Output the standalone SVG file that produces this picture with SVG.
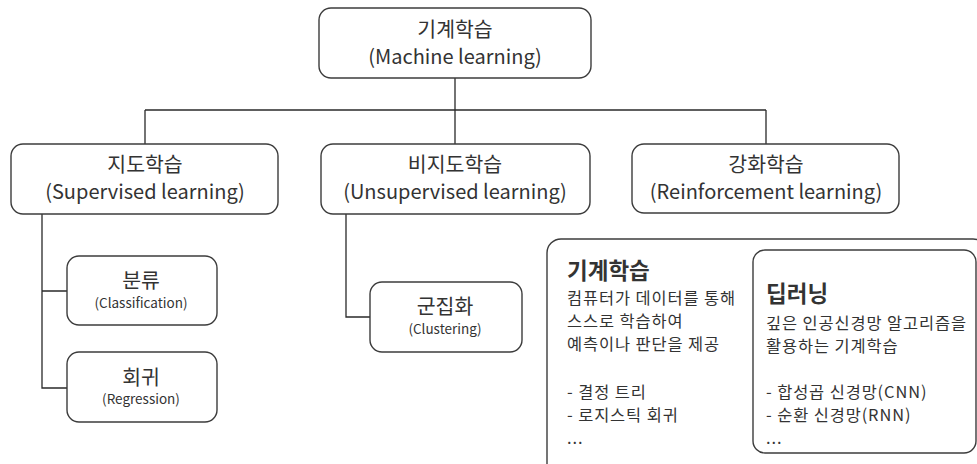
<svg xmlns="http://www.w3.org/2000/svg" width="977" height="464" viewBox="0 0 977 464">
<style>
.box{fill:#fff;stroke:#3c3c3c;stroke-width:1.4}
.ln{fill:none;stroke:#2a2a2a;stroke-width:1.3}
text{font-family:"Noto Sans CJK KR","Noto Sans",sans-serif;fill:#333}
.t{font-size:20.5px;text-anchor:middle}
.e{font-size:20px;text-anchor:middle}
.s{font-size:13.5px;text-anchor:middle}
.h{font-size:22.5px;font-weight:bold}
.b{font-size:16.4px;letter-spacing:0.9px}
</style>
<rect width="977" height="464" fill="#fff"/>
<g id="connectors">
<path class="ln" d="M455 78V144M145 110H766M145 110V144M766 110V144"/>
<path class="ln" d="M42 214V388H67M42 291H67"/>
<path class="ln" d="M346 214V317H370"/>
</g>
<g id="ml">
<rect class="box" x="319" y="8" width="272" height="70" rx="12"/>
<text class="t" x="455" y="37">기계학습</text>
<text class="e" x="455" y="64">(Machine learning)</text>
</g>
<g id="supervised">
<rect class="box" x="11" y="144" width="267" height="70" rx="12"/>
<text class="t" x="145" y="172">지도학습</text>
<text class="e" x="145" y="199">(Supervised learning)</text>
</g>
<g id="unsupervised">
<rect class="box" x="321" y="144" width="269" height="70" rx="12"/>
<text class="t" x="455" y="172">비지도학습</text>
<text class="e" x="455" y="199">(Unsupervised learning)</text>
</g>
<g id="reinforcement">
<rect class="box" x="632" y="144" width="267" height="69" rx="12"/>
<text class="t" x="766" y="172">강화학습</text>
<text class="e" x="766" y="199">(Reinforcement learning)</text>
</g>
<g id="classification">
<rect class="box" x="67" y="256" width="150" height="69" rx="12"/>
<text class="t" x="141" y="288">분류</text>
<text class="s" x="141" y="308">(Classification)</text>
</g>
<g id="regression">
<rect class="box" x="67" y="352" width="150" height="70" rx="12"/>
<text class="t" x="141" y="385">회귀</text>
<text class="s" x="141" y="404">(Regression)</text>
</g>
<g id="clustering">
<rect class="box" x="370" y="282" width="152" height="70" rx="12"/>
<text class="t" x="445" y="314">군집화</text>
<text class="s" x="445" y="334">(Clustering)</text>
</g>
<g id="compare">
<rect class="box" x="547" y="239" width="440" height="240" rx="14"/>
<text class="h" x="567" y="279">기계학습</text>
<text class="b" x="567" y="304">컴퓨터가 데이터를 통해</text>
<text class="b" x="567" y="327">스스로 학습하여</text>
<text class="b" x="567" y="350">예측이나 판단을 제공</text>
<text class="b" x="567" y="398">- 결정 트리</text>
<text class="b" x="567" y="421">- 로지스틱 회귀</text>
<text class="b" x="567" y="444">...</text>
</g>
<g id="deeplearning">
<rect class="box" x="753" y="250" width="223" height="203" rx="12"/>
<text class="h" x="766" y="302">딥러닝</text>
<text class="b" x="766" y="329">깊은 인공신경망 알고리즘을</text>
<text class="b" x="766" y="352">활용하는 기계학습</text>
<text class="b" x="766" y="398">- 합성곱 신경망(CNN)</text>
<text class="b" x="766" y="421">- 순환 신경망(RNN)</text>
<text class="b" x="766" y="444">...</text>
</g>
</svg>
